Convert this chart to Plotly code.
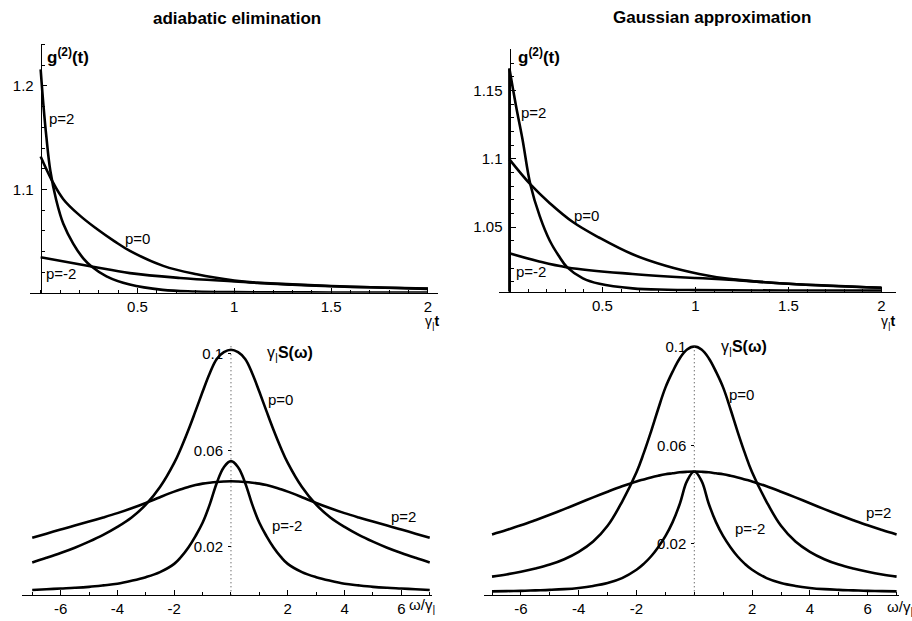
import plotly.graph_objects as go

W, H = 912, 621
FONT = "Liberation Sans, Arial, Helvetica, sans-serif"

# ---------------- data ----------------
# top-left: adiabatic elimination, g2(t)
t_ad_p2 = [0, 0.015, 0.03, 0.05, 0.08, 0.117, 0.168, 0.22, 0.263, 0.34, 0.46, 0.63, 0.8, 1.0, 1.25, 1.5, 1.75, 2.0]
g_ad_p2 = [1.216, 1.180, 1.150, 1.118, 1.090, 1.0667, 1.0476, 1.0333, 1.0254, 1.0159, 1.0079, 1.0028, 1.0012, 1.0006, 1.0004, 1.0003, 1.0002, 1.0002]
t_ad_p0 = [0, 0.057, 0.117, 0.203, 0.289, 0.38, 0.461, 0.633, 0.806, 1.0, 1.13, 1.3, 1.5, 1.75, 2.0]
g_ad_p0 = [1.1317, 1.109, 1.0905, 1.0746, 1.0619, 1.050, 1.0405, 1.0260, 1.0178, 1.0118, 1.0095, 1.0078, 1.0063, 1.0050, 1.0040]
t_ad_m2 = [0, 0.263, 0.461, 0.72, 1.0, 1.13, 1.5, 2.0]
g_ad_m2 = [1.0343, 1.0254, 1.019, 1.0143, 1.0110, 1.0095, 1.0065, 1.0037]

# top-right: Gaussian approximation, g2(t)
t_ga_p2 = [0, 0.035, 0.07, 0.113, 0.163, 0.217, 0.265, 0.311, 0.395, 0.484, 0.662, 0.85, 1.0, 1.5, 2.0]
g_ga_p2 = [1.166, 1.139, 1.1145, 1.081, 1.058, 1.040, 1.029, 1.0205, 1.0125, 1.0085, 1.0052, 1.0042, 1.0039, 1.0036, 1.0035]
t_ga_p0 = [0, 0.113, 0.217, 0.341, 0.484, 0.662, 0.84, 1.02, 1.18, 1.5, 2.0]
g_ga_p0 = [1.0995, 1.0812, 1.0675, 1.0537, 1.0422, 1.0301, 1.0217, 1.0157, 1.0121, 1.0085, 1.0056]
t_ga_m2 = [0, 0.15, 0.311, 0.662, 1.0, 1.18, 1.5, 2.0]
g_ga_m2 = [1.0309, 1.0252, 1.0205, 1.0157, 1.0127, 1.0116, 1.0085, 1.0056]

# bottom: spectra gamma S(omega), symmetric in omega
w_half = [0, 0.25, 0.5, 0.75, 1, 1.25, 1.5, 1.75, 2, 2.5, 3, 3.5, 4, 4.5, 5, 5.5, 6, 6.5, 7]
s_ad_p0 = [0.1016, 0.1006, 0.0978, 0.0918, 0.0842, 0.0762, 0.0684, 0.0612, 0.0548, 0.0448, 0.0375, 0.0322, 0.0283, 0.0250, 0.0222, 0.0197, 0.0175, 0.0155, 0.0136]
s_ad_p2 = [0.0472, 0.0471, 0.0469, 0.0466, 0.0462, 0.0456, 0.0448, 0.0439, 0.0429, 0.0406, 0.0382, 0.0360, 0.0340, 0.0322, 0.0305, 0.0289, 0.0272, 0.0255, 0.0238]
s_ad_m2 = [0.0555, 0.0530, 0.0465, 0.0375, 0.0300, 0.0245, 0.0198, 0.0160, 0.0130, 0.0096, 0.0075, 0.0060, 0.0048, 0.0041, 0.0035, 0.0031, 0.0028, 0.0025, 0.0022]
s_ga_p0 = [0.1003, 0.0990, 0.0955, 0.0900, 0.0835, 0.0748, 0.0655, 0.0568, 0.0490, 0.0370, 0.0272, 0.0208, 0.0166, 0.0136, 0.0114, 0.0098, 0.0085, 0.0074, 0.0065]
s_ga_p2 = [0.0493, 0.0492, 0.0490, 0.0486, 0.0482, 0.0476, 0.0469, 0.0461, 0.0453, 0.0433, 0.0411, 0.0388, 0.0364, 0.0340, 0.0317, 0.0295, 0.0274, 0.0255, 0.0237]
s_ga_m2 = [0.0493, 0.0455, 0.0362, 0.0287, 0.0230, 0.0185, 0.0147, 0.0117, 0.0093, 0.0059, 0.0039, 0.0027, 0.0019, 0.0014, 0.0011, 0.0009, 0.0007, 0.0006, 0.0005]

w_full = [-v for v in w_half[:0:-1]] + w_half
def mirror(vals):
    return vals[:0:-1] + vals

# ---------------- figure ----------------
fig = go.Figure()
LW = 2.6
def curve(x, y, xa, ya):
    fig.add_trace(go.Scatter(x=x, y=y, mode="lines", xaxis=xa, yaxis=ya,
                             line=dict(color="black", width=LW, shape="spline", smoothing=1.1),
                             hoverinfo="skip", showlegend=False))

curve(t_ad_p2, g_ad_p2, "x", "y")
curve(t_ad_p0, g_ad_p0, "x", "y")
curve(t_ad_m2, g_ad_m2, "x", "y")

YR2 = [1.0027, 1.1806]
curve(t_ga_p2, g_ga_p2, "x2", "y2")
curve(t_ga_p0, g_ga_p0, "x2", "y2")
curve(t_ga_m2, g_ga_m2, "x2", "y2")
# vertical rise of the Gaussian-approximation curve at t=0
fig.add_trace(go.Scatter(x=[t_ga_p2[0], t_ga_p2[0]], y=[YR2[0], g_ga_p2[0]], mode="lines",
                         xaxis="x2", yaxis="y2", line=dict(color="black", width=LW),
                         hoverinfo="skip", showlegend=False))

curve(w_full, mirror(s_ad_p0), "x3", "y3")
curve(w_full, mirror(s_ad_p2), "x3", "y3")
curve(w_full, mirror(s_ad_m2), "x3", "y3")

curve(w_full, mirror(s_ga_p0), "x4", "y4")
curve(w_full, mirror(s_ga_p2), "x4", "y4")
curve(w_full, mirror(s_ga_m2), "x4", "y4")

def fx(p): return p / W
def fy(p): return 1 - p / H

tickfont = dict(family=FONT, size=15, color="black")
common = dict(showgrid=False, zeroline=False, showline=True, linecolor="black", linewidth=1,
              tickcolor="black", tickfont=tickfont, fixedrange=True)

layout = dict(
    width=W, height=H, margin=dict(l=0, r=0, t=0, b=0),
    paper_bgcolor="white", plot_bgcolor="white", showlegend=False,
    font=dict(family=FONT, color="black"),
    xaxis=dict(common, domain=[fx(30), fx(438)], range=[-0.055, 2.052], anchor="y",
               tickvals=[0.5, 1, 1.5, 2], ticktext=["0.5", "1", "1.5", "2"],
               ticks="inside", ticklen=5,
               minor=dict(ticks="inside", ticklen=3, dtick=0.1, tick0=0, tickcolor="black")),
    yaxis=dict(common, domain=[fy(289), fy(37)], range=[1.0, 1.241], anchor="free",
               position=fx(40.7), tickvals=[1.1, 1.2], ticktext=["1.1", "1.2"],
               ticks="inside", ticklen=5, ticklabelstandoff=4,
               minor=dict(ticks="inside", ticklen=3, dtick=0.02, tick0=1, tickcolor="black")),
    xaxis2=dict(common, domain=[fx(499), fx(896)], range=[-0.056, 2.078], anchor="y2",
                tickvals=[0.5, 1, 1.5, 2], ticktext=["0.5", "1", "1.5", "2"],
                ticks="inside", ticklen=5,
                minor=dict(ticks="inside", ticklen=3, dtick=0.1, tick0=0, tickcolor="black")),
    yaxis2=dict(common, domain=[fy(288), fy(42)], range=YR2, anchor="free",
                position=fx(509.5), tickvals=[1.05, 1.1, 1.15], ticktext=["1.05", "1.1", "1.15"],
                ticks="inside", ticklen=5, ticklabelstandoff=4,
                minor=dict(ticks="inside", ticklen=3, dtick=0.01, tick0=1, tickcolor="black")),
    xaxis3=dict(common, domain=[fx(22), fx(432)], range=[-7.36, 7.08], anchor="y3",
                tickvals=[-6, -4, -2, 2, 4, 6], ticktext=["-6", "-4", "-2", "2", "4", "6"],
                ticks="inside", ticklen=5,
                minor=dict(ticks="inside", ticklen=3, dtick=1, tick0=0, tickcolor="black")),
    yaxis3=dict(common, showline=False, domain=[fy(595), fy(343)], range=[0, 0.1031], anchor="free",
                position=fx(231), tickvals=[0.02, 0.06, 0.1], ticktext=["0.02", "0.06", "0.1"],
                ticks="outside", ticklen=3, ticklabelstandoff=2),
    xaxis4=dict(common, domain=[fx(484), fx(899)], range=[-7.277, 7.083], anchor="y4",
                tickvals=[-6, -4, -2, 2, 4, 6], ticktext=["-6", "-4", "-2", "2", "4", "6"],
                ticks="inside", ticklen=5,
                minor=dict(ticks="inside", ticklen=3, dtick=1, tick0=0, tickcolor="black")),
    yaxis4=dict(common, showline=False, domain=[fy(595), fy(342)], range=[-0.0011, 0.1008], anchor="free",
                position=fx(694.3), tickvals=[0.02, 0.06, 0.1], ticktext=["0.02", "0.06", "0.1"],
                ticks="outside", ticklen=3, ticklabelstandoff=2),
)
fig.update_layout(**layout)

# dotted vertical axes of the spectra
for xr, yr in (("x3", "y3 domain"), ("x4", "y4 domain")):
    fig.add_shape(type="line", xref=xr, yref=yr, x0=0, x1=0, y0=0, y1=1,
                  line=dict(color="#333", width=1, dash="1px,3px"))

def ann(text, x, y, xref="paper", yref="paper", size=15, xanchor="center", yanchor="middle"):
    fig.add_annotation(text=text, x=x, y=y, xref=xref, yref=yref, showarrow=False,
                       xanchor=xanchor, yanchor=yanchor,
                       font=dict(family=FONT, size=size, color="black"))

ann("<b>adiabatic elimination</b>", fx(237), fy(12), size=17)
ann("<b>Gaussian approximation</b>", fx(712), fy(11), size=17)

ann("<b>g<sup>(2)</sup>(t)</b>", fx(45), fy(50), size=17, xanchor="left")
ann("<b>g<sup>(2)</sup>(t)</b>", fx(516), fy(50), size=17, xanchor="left")
ann("γ<sub>|</sub><b>t</b>", fx(432), fy(319), size=14)
ann("γ<sub>|</sub><b>t</b>", fx(888), fy(319), size=14)
ann("γ<sub>|</sub><b>S(ω)</b>", fx(265), fy(350), size=16, xanchor="left")
ann("γ<sub>|</sub><b>S(ω)</b>", fx(719), fy(344), size=16, xanchor="left")
ann("ω/γ<sub>|</sub>", fx(407), fy(605), size=15, xanchor="left")
ann("ω/γ<sub>|</sub>", fx(885), fy(607), size=15, xanchor="left")

# curve labels (data coordinates)
ann("p=2", 0.107, 1.169, "x", "y")
ann("p=0", 0.50, 1.052, "x", "y")
ann("p=-2", 0.105, 1.019, "x", "y")
ann("p=2", 0.131, 1.1335, "x2", "y2")
ann("p=0", 0.414, 1.0583, "x2", "y2")
ann("p=-2", 0.118, 1.0178, "x2", "y2")
ann("p=0", 1.76, 0.081, "x3", "y3")
ann("p=-2", 1.99, 0.0287, "x3", "y3")
ann("p=2", 6.06, 0.0327, "x3", "y3")
ann("p=0", 1.62, 0.0808, "x4", "y4")
ann("p=-2", 1.93, 0.026, "x4", "y4")
ann("p=2", 6.36, 0.0325, "x4", "y4")

fig.write_html("out.html")
